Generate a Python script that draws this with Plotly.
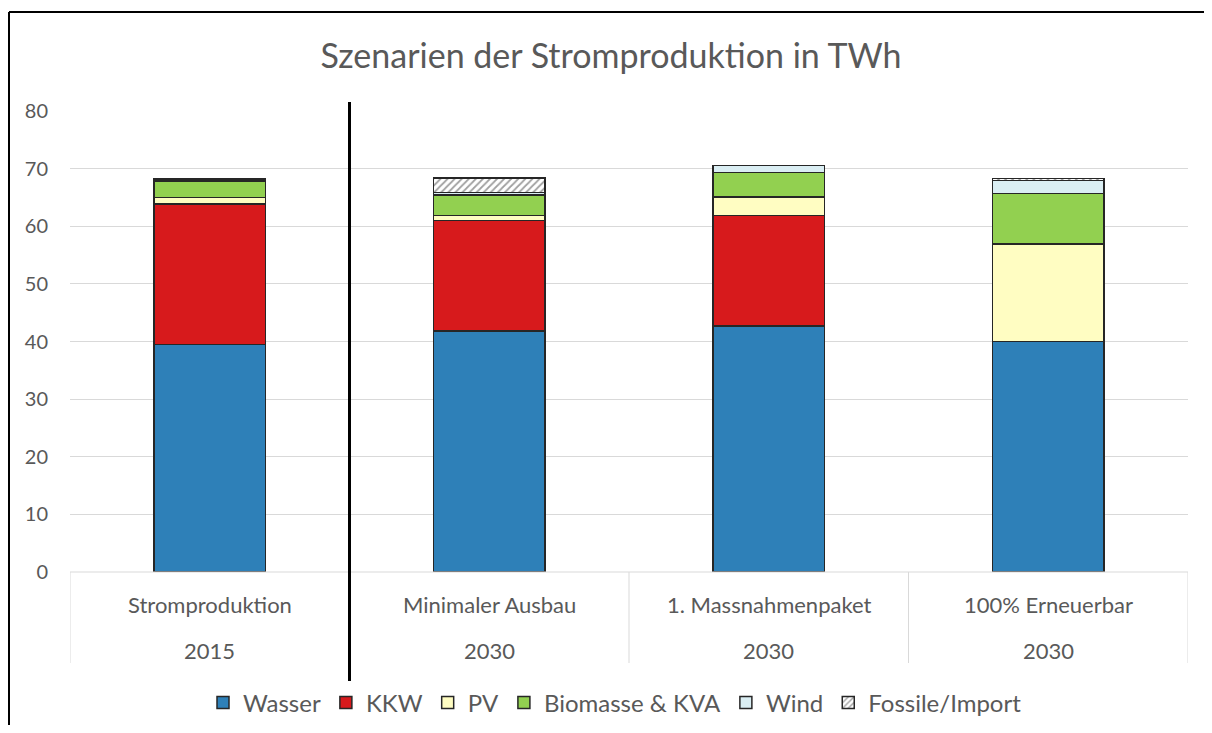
import plotly.graph_objects as go

categories = ["Stromproduktion", "Minimaler Ausbau", "1. Massnahmenpaket", "100% Erneuerbar"]
years = ["2015", "2030", "2030", "2030"]

wasser = [39.5, 41.8, 42.7, 40.0]
kkw = [24.4, 19.2, 19.2, 0.0]
pv = [1.1, 0.9, 3.2, 16.9]
biomasse = [2.8, 3.5, 4.2, 8.8]
wind = [0.1, 0.5, 1.2, 2.2]
fossile = [0.3, 2.5, 0.0, 0.4]

series = [
    ("Wasser", wasser, "#2E80B8", None),
    ("KKW", kkw, "#D71A1C", None),
    ("PV", pv, "#FFFDC2", None),
    ("Biomasse & KVA", biomasse, "#92D050", None),
    ("Wind", wind, "#DAEEF3", None),
    ("Fossile/Import", fossile, "#FFFFFF", "/"),
]

xpos = list(range(len(categories)))

fig = go.Figure()
for name, vals, color, pat in series:
    marker = dict(color=color, line=dict(color="#262626", width=1.5))
    if pat:
        marker["pattern"] = dict(shape=pat, fgcolor="#404040", bgcolor="#FFFFFF", size=5, solidity=0.35)
    fig.add_trace(go.Bar(x=xpos, y=vals, name=name, marker=marker, width=0.4))

OFF = 8  # page body margin
W, H = 1212 - 2 * OFF, 733 - 2 * OFF
L, R, T, B = 70 - OFF, 1188 - OFF, 111 - OFF, 572 - OFF
pw, ph = R - L, B - T

def px(p):
    return (p - OFF - L) / pw

def py(p):
    return (B - (p - OFF)) / ph

shapes = []
for xv in [-0.5, 1.5, 2.5, 3.5]:
    shapes.append(dict(type="line", xref="x", yref="paper", x0=xv, x1=xv, y0=0, y1=py(663),
                       line=dict(color="#D9D9D9", width=1)))
shapes.append(dict(type="line", xref="paper", yref="paper", x0=0, x1=1, y0=0, y1=0,
                   line=dict(color="#D9D9D9", width=1)))
shapes.append(dict(type="line", xref="x", yref="paper", x0=0.5, x1=0.5, y0=py(682), y1=py(102),
                   line=dict(color="#000000", width=3)))
shapes.append(dict(type="line", xref="paper", yref="paper", x0=px(9), x1=px(9),
                   y0=py(745), y1=py(12), line=dict(color="#000000", width=2)))
shapes.append(dict(type="line", xref="paper", yref="paper", x0=px(9), x1=px(1230),
                   y0=py(12), y1=py(12), line=dict(color="#000000", width=2)))

annotations = []
for i, (c, yv) in enumerate(zip(categories, years)):
    annotations.append(dict(x=i, y=py(604), xref="x", yref="paper", text=c, showarrow=False,
                            font=dict(family="Lato", size=22, color="#595959"), yanchor="middle"))
    annotations.append(dict(x=i, y=py(650), xref="x", yref="paper", text=yv, showarrow=False,
                            font=dict(family="Lato", size=22, color="#595959"), yanchor="middle"))

fig.update_layout(
    width=W, height=H,
    margin=dict(l=L, r=W - R, t=T, b=H - B, autoexpand=False),
    barmode="stack",
    plot_bgcolor="white", paper_bgcolor="white",
    title=dict(text="Szenarien der Stromproduktion in TWh", x=(611 - OFF) / W, xanchor="center",
               y=1 - (56 - OFF) / H, yanchor="middle",
               font=dict(family="Lato", size=34, color="#595959")),
    xaxis=dict(range=[-0.5, 3.5], showticklabels=False, showgrid=False, zeroline=False,
               tickvals=xpos, ticks=""),
    yaxis=dict(range=[0, 80], dtick=10, showgrid=True, gridcolor="#D9D9D9", gridwidth=1,
               zeroline=False, tickfont=dict(family="Lato", size=20, color="#595959"),
               ticks="", ticklabelstandoff=21),
    legend=dict(orientation="h", x=px(615), xanchor="center", y=py(703), yanchor="middle",
                font=dict(family="Lato", size=24, color="#595959"), traceorder="normal",
                itemwidth=30),
    shapes=shapes,
    annotations=annotations,
    showlegend=True,
)

fig.write_html("out.html")
